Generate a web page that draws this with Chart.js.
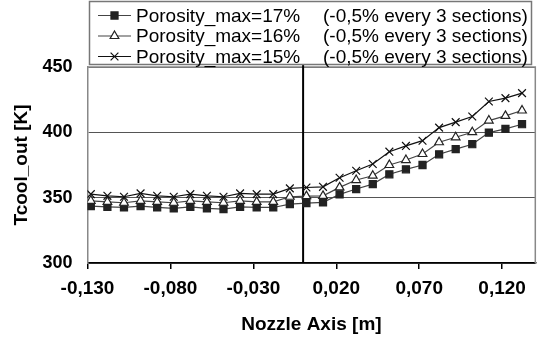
<!DOCTYPE html>
<html>
<head>
<meta charset="utf-8">
<script src="https://cdn.jsdelivr.net/npm/chart.js@4/dist/chart.umd.min.js"></script>
<style>
html,body{margin:0;padding:0;background:#fff;}
#wrap{width:542px;height:339px;position:relative;}
</style>
</head>
<body>
<div id="wrap"><canvas id="c" width="542" height="339"></canvas></div>
<script>
// ---- data ----
const xValues = [-0.128,-0.118,-0.108,-0.098,-0.088,-0.078,-0.068,-0.058,-0.048,-0.038,-0.028,-0.018,-0.008,0.002,0.012,0.022,0.032,0.042,0.052,0.062,0.072,0.082,0.092,0.102,0.112,0.122,0.132];
const por17 = [343.5,343.0,342.5,343.5,342.5,341.8,343.0,341.8,341.2,343.0,342.5,342.5,345.1,345.8,346.4,352.5,356.6,360.4,367.9,371.7,375.0,383.2,387.1,390.9,399.8,402.6,406.2];
const por16 = [347.6,346.8,346.1,347.6,346.8,346.1,347.6,346.8,346.1,347.6,346.8,346.8,350.7,351.2,351.4,357.9,363.5,366.8,375.0,378.8,383.4,392.4,396.2,400.1,409.0,412.6,416.7];
const por15 = [352.7,351.4,350.7,353.3,351.4,350.7,352.7,351.4,350.7,353.3,352.7,352.7,357.1,357.8,358.3,365.2,370.6,375.8,385.2,389.6,393.6,403.6,407.8,412.1,423.6,426.2,430.0];
const seriesLabels = ['Porosity_max=17%','Porosity_max=16%','Porosity_max=15%'];
const noteLabel = '(-0,5% every 3 sections)';
const xTicks = [-0.13,-0.08,-0.03,0.02,0.07,0.12];
const xTickLabels = ['-0,130','-0,080','-0,030','0,020','0,070','0,120'];
const yTicks = [300,350,400,450];
const xTitle = 'Nozzle Axis [m]';
const yTitle = 'Tcool_out [K]';

const FONT = '"Liberation Sans", Arial, sans-serif';
const toPts = arr => arr.map((v,i)=>({x:xValues[i], y:v}));

const styles = [
  {pointStyle:'rect', radius:5, bg:'#222', border:'#222', line:'#444'},
  {pointStyle:'triangle', radius:5, bg:'#fff', border:'#222', line:'#444'},
  {pointStyle:'crossRot', radius:5.5, bg:'#111', border:'#111', line:'#111'}
];
const seriesData = [por17, por16, por15];

const datasets = seriesData.map((arr,k)=>({
  label: seriesLabels[k],
  data: toPts(arr),
  showLine: true,
  borderColor: styles[k].line,
  borderWidth: 1.2,
  pointStyle: styles[k].pointStyle,
  pointRadius: styles[k].radius,
  pointBackgroundColor: styles[k].bg,
  pointBorderColor: styles[k].border,
  pointBorderWidth: 1.2,
  order: 3-k
}));

const framePlugin = {
  id:'frame',
  beforeDatasetsDraw(chart){
    const {ctx, chartArea:a, scales} = chart;
    ctx.save();
    ctx.strokeStyle = '#888';
    ctx.lineWidth = 1.5;
    ctx.beginPath();
    ctx.moveTo(a.left, a.top); ctx.lineTo(a.right, a.top); ctx.lineTo(a.right, a.bottom);
    ctx.stroke();
    const x0 = scales.x.getPixelForValue(0);
    ctx.strokeStyle = '#000';
    ctx.lineWidth = 2;
    ctx.beginPath();
    ctx.moveTo(x0, a.top-2); ctx.lineTo(x0, a.bottom);
    ctx.stroke();
    ctx.restore();
  },
  afterDraw(chart){
    const ctx = chart.ctx;
    ctx.save();
    ctx.strokeStyle = '#777';
    ctx.lineWidth = 1.5;
    ctx.strokeRect(89.5, 1.5, 442, 63);
    const rows = [15.5, 36, 56.5];
    ctx.font = '19px ' + FONT;
    ctx.textBaseline = 'middle';
    ctx.textAlign = 'left';
    rows.forEach((y,k)=>{
      const s = styles[k];
      ctx.strokeStyle = s.line; ctx.lineWidth = 1.2;
      ctx.beginPath(); ctx.moveTo(98,y); ctx.lineTo(131,y); ctx.stroke();
      ctx.fillStyle = s.bg; ctx.strokeStyle = s.border; ctx.lineWidth = 1.2;
      Chart.helpers.drawPoint(ctx, {pointStyle:s.pointStyle, radius:s.radius, rotation:0, borderWidth:1.2}, 114.5, y);
      ctx.fillStyle = '#000';
      ctx.fillText(seriesLabels[k], 136, y+1);
      ctx.fillText(noteLabel, 323, y+1);
    });
    ctx.restore();
  }
};

new Chart(document.getElementById('c'), {
  type:'scatter',
  data:{datasets},
  options:{
    responsive:false,
    animation:false,
    devicePixelRatio:1,
    layout:{padding:{top:67, right:4, left:0, bottom:0}},
    plugins:{legend:{display:false}, tooltip:{enabled:false}},
    scales:{
      x:{
        type:'linear', min:-0.13, max:0.14,
        afterBuildTicks(axis){ axis.ticks = xTicks.map(v=>({value:v})); },
        afterFit(scale){ scale.height = 76; },
        ticks:{
          autoSkip:false, maxRotation:0, padding:8, color:'#000',
          font:{family:FONT, size:19, weight:'bold'},
          callback(v){ const i = xTicks.findIndex(t=>Math.abs(t-v)<1e-9); return i>=0 ? xTickLabels[i] : ''; }
        },
        grid:{drawOnChartArea:false, drawTicks:true, tickLength:6, color:'#000', lineWidth:1.5},
        border:{color:'#000', width:1.5},
        title:{display:true, text:xTitle, color:'#000', font:{family:FONT, size:19, weight:'bold'}, padding:{top:0,bottom:3}}
      },
      y:{
        type:'linear', min:300, max:450,
        afterBuildTicks(axis){ axis.ticks = yTicks.map(v=>({value:v})); },
        afterFit(scale){ scale.width = 87.5; },
        ticks:{padding:15, color:'#000', font:{family:FONT, size:18, weight:'bold'}},
        grid:{drawTicks:false, color:'#555', lineWidth:1},
        border:{color:'#888', width:1.5},
        title:{display:true, text:yTitle, color:'#000', font:{family:FONT, size:19, weight:'bold'}, padding:{top:10,bottom:0}}
      }
    }
  },
  plugins:[framePlugin]
});
</script>
</body>
</html>
